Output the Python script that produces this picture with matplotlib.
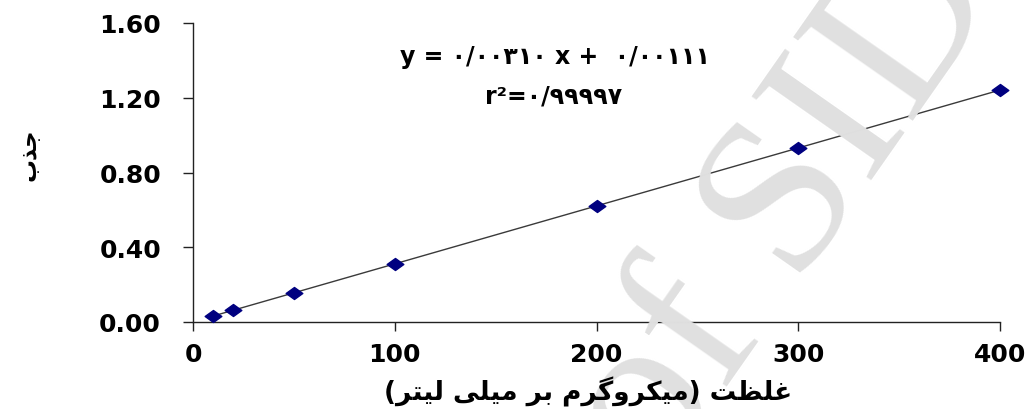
import numpy as np
import matplotlib
matplotlib.use("Agg")
import matplotlib.pyplot as plt
from matplotlib.path import Path

# calibration data (concentration vs absorbance)
conc = [10, 20, 50, 100, 200, 300, 400]
absorb = [0.032, 0.063, 0.156, 0.311, 0.622, 0.931, 1.241]

x_ticks = [0, 100, 200, 300, 400]
y_ticks = [0.0, 0.4, 0.8, 1.2, 1.6]
y_tick_labels = ["0.00", "0.40", "0.80", "1.20", "1.60"]

# persian text, written with presentation forms in visual (left to right) order
x_label = ("(" + "\uFEAE\uFE98\uFBFF\uFEDF" + " " + "\uFBFD\uFEE0\uFBFF\uFEE3" + " "
           + "\uFEAE\uFE91" + " "
           + "\uFEE1\uFEAE\uFB94\uFEED\uFEAE\uFB91\uFBFF\uFEE3" + ")" + " "
           + "\uFE96\uFEC8\uFEE0\uFECF")
y_label = "\uFE8F\uFEAC\uFE9F"
eq_line1 = "y = \u06F0/\u06F0\u06F0\u06F3\u06F1\u06F0 x +  \u06F0/\u06F0\u06F0\u06F1\u06F1\u06F1"
eq_line2 = "r\u00B2=\u06F0/\u06F9\u06F9\u06F9\u06F9\u06F7"

plt.rcParams["font.family"] = ["DejaVu Sans"]

fig = plt.figure(figsize=(10.27, 4.10), dpi=100)
ax = fig.add_axes([193 / 1027, 1 - 323 / 410, (1000 - 193) / 1027, (323 - 24) / 410])

# watermark
fig.text(0.765, 0.49, "of SID", rotation=55, fontsize=160, family="Liberation Serif",
         color="#e0e0e0", ha="center", va="center", zorder=0)
ax.set_facecolor("none")

# flat diamond marker like the excel one
diamond = Path([(-1, 0), (0, 0.72), (1, 0), (0, -0.72), (-1, 0)],
               [Path.MOVETO, Path.LINETO, Path.LINETO, Path.LINETO, Path.CLOSEPOLY])

slope, icpt = np.polyfit(conc, absorb, 1)
xs = np.array([conc[0], conc[-1]])
ax.plot(xs, slope * xs + icpt, color="#3a3a3a", lw=1.0, zorder=2)
ax.plot(conc, absorb, linestyle="none", marker=diamond, markersize=12,
        color="#000080", zorder=3, clip_on=False)

ax.set_xlim(0, 400)
ax.set_ylim(0, 1.6)
ax.set_xticks(x_ticks)
ax.set_yticks(y_ticks)
ax.set_yticklabels(y_tick_labels)
for s in ["top", "right"]:
    ax.spines[s].set_visible(False)
for s in ["left", "bottom"]:
    ax.spines[s].set_color("#222222")
    ax.spines[s].set_linewidth(1.0)
ax.tick_params(direction="out", width=1, color="#222222", labelsize=18)
ax.tick_params(axis="y", length=7, pad=16)
ax.tick_params(axis="x", length=6.5, pad=8)
for t in ax.get_xticklabels() + ax.get_yticklabels():
    t.set_fontweight("bold")

ax.text(0.449, 0.89, eq_line1, transform=ax.transAxes, ha="center", va="center",
        fontsize=17, fontweight="bold")
ax.text(0.447, 0.756, eq_line2, transform=ax.transAxes, ha="center", va="center",
        fontsize=17, fontweight="bold")

fig.text(588 / 1027, 1 - 392 / 410, x_label, ha="center", va="center",
         fontsize=19, fontweight="bold")
fig.text(29 / 1027, 1 - 155 / 410, y_label, ha="center", va="center",
         fontsize=16.5, fontweight="bold", rotation=90)

fig.savefig("out.png", dpi=100)
